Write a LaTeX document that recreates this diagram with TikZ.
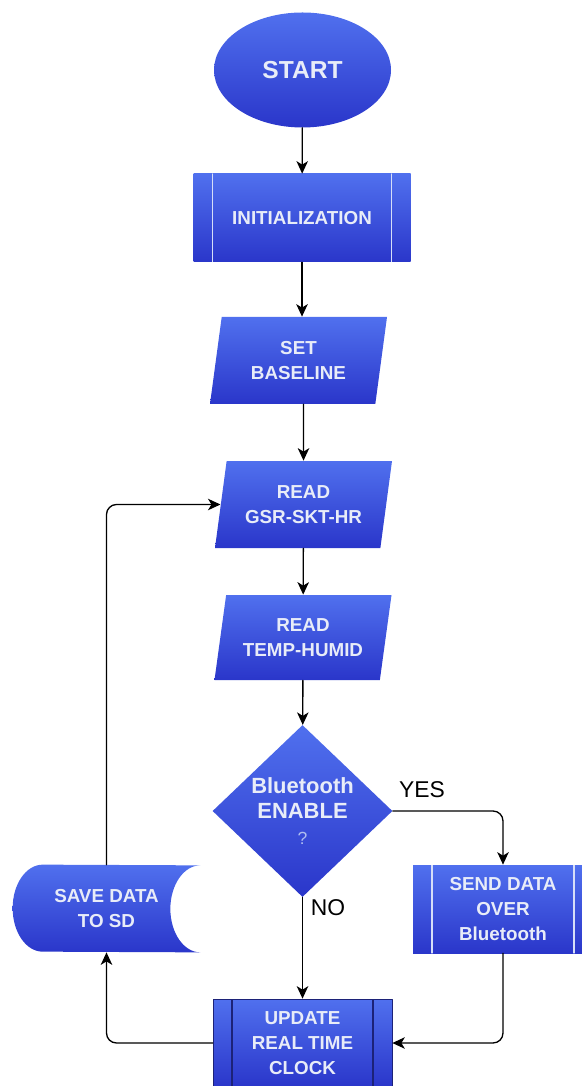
\documentclass[tikz,border=0pt]{standalone}
\usepackage{fontspec}
\setmainfont{Liberation Sans}
\usepackage{tikz}
\usetikzlibrary{arrows.meta,shapes.geometric,backgrounds,positioning}
\definecolor{flowtop}{RGB}{80,112,238}
\definecolor{flowbot}{RGB}{42,54,202}
\definecolor{flowtext}{RGB}{232,236,248}
\definecolor{boxline}{RGB}{214,222,248}
\definecolor{boxdark}{RGB}{28,34,120}
\definecolor{askgray}{RGB}{175,190,240}
\tikzset{
  flowfill/.style={top color=flowtop, bottom color=flowbot, draw=none},
  flowtext/.style={text=flowtext, align=center, inner sep=0pt,
    font=\bfseries\fontsize{10.7}{14.2}\selectfont},
  startbox/.style={ellipse, flowfill, flowtext,
    font=\bfseries\fontsize{14}{16}\selectfont,
    minimum width=3.54cm, minimum height=2.30cm},
  procbox/.style={rectangle, flowfill, flowtext,
    minimum width=4.34cm, minimum height=1.76cm,
    path picture={
      \draw[#1, line width=.6pt]
        ([xshift=.38cm]path picture bounding box.north west)
          -- ([xshift=.38cm]path picture bounding box.south west)
        ([xshift=-.38cm]path picture bounding box.north east)
          -- ([xshift=-.38cm]path picture bounding box.south east);
    }},
  procbox/.default=boxline,
  iobox/.style={trapezium, trapezium left angle=73, trapezium right angle=107,
    trapezium stretches body, flowfill, flowtext,
    minimum width=3.54cm, minimum height=1.74cm},
  askbox/.style={diamond, flowfill, flowtext,
    font=\bfseries\fontsize{12.5}{14.5}\selectfont,
    minimum width=3.6cm, minimum height=3.44cm},
  savebox/.style={rectangle, flowtext, minimum width=3.74cm, minimum height=1.74cm},
  flowarrow/.style={-{Stealth[length=2.5mm,width=2.3mm,inset=.7mm]},
    line width=.75pt, rounded corners=2mm},
  answer/.style={font=\fontsize{13}{15}\selectfont, inner sep=0pt}
}

\begin{document}
\begin{tikzpicture}[line cap=round, line join=round]
  \useasboundingbox (0,0) rectangle (11.62,-21.72);

  % Main column, top to bottom.
  \node[startbox] (start) at (6.05,-1.40) {START};
  \node[procbox] (init) at (6.04,-4.36) {INITIALIZATION};
  \node[iobox] (baseline) at (5.97,-7.21) {SET\\BASELINE};
  \node[iobox] (readgsr) at (6.07,-10.09) {READ\\GSR-SKT-HR};
  \node[iobox, minimum height=1.70cm] (readtemp) at (6.06,-12.75)
    {READ\\TEMP-HUMID};
  \node[askbox] (btask) at (6.05,-16.22)
    {Bluetooth\\ENABLE\\{\normalfont\fontsize{10}{12}\selectfont\color{askgray}?}};

  % Branches below the decision.
  \node[procbox, minimum width=3.6cm] (sendbt) at (10.06,-18.18)
    {SEND DATA\\OVER\\Bluetooth};
  \node[procbox=boxdark, draw=boxdark, minimum width=3.58cm] (rtc)
    at (6.05,-20.86) {UPDATE\\REAL TIME\\CLOCK};
  \node[savebox] (savesd) at (2.13,-18.17) {SAVE DATA\\TO SD};
  \begin{pgfonlayer}{background}
    \shade[flowfill] ([xshift=6mm]savesd.north west)
      arc[start angle=90,end angle=270,x radius=6mm,y radius=8.7mm]
      -- (savesd.south east)
      arc[start angle=270,end angle=90,x radius=6mm,y radius=8.7mm] -- cycle;
  \end{pgfonlayer}

  \draw[flowarrow] (start) -- (init);
  \draw[flowarrow] (init) -- (init |- baseline.north);
  \draw[flowarrow] (baseline.south -| readgsr) -- (readgsr.north);
  \draw[flowarrow] (readgsr) -- (readtemp);
  \draw[flowarrow] (readtemp) -- (btask);
  \draw[flowarrow] (btask.east) -| (sendbt.north);
  \draw[flowarrow] (btask.south) -- (rtc.north);
  \draw[flowarrow] (sendbt.south) |- (rtc.east);
  \draw[flowarrow] (rtc.west) -| (savesd.south);
  \draw[flowarrow] (savesd.north) |- (readgsr.west);

  \node[answer] (yes) at (8.44,-15.80) {YES};
  \node[answer] (no) at (6.56,-18.16) {NO};
\end{tikzpicture}
\end{document}
